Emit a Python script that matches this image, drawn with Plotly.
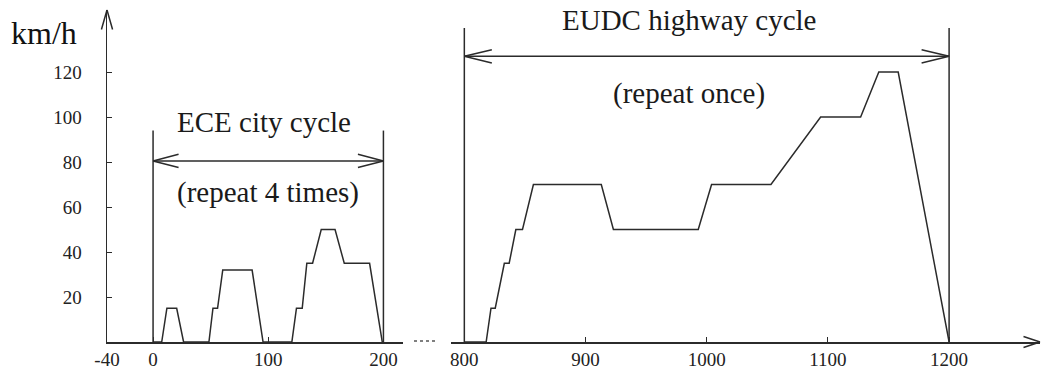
import plotly.graph_objects as go

# ---------------- data ----------------
ece_t = [0, 7.5, 12, 20.5, 26.5, 48.5, 52, 56, 60.5, 86, 95.5, 120.5, 124.5, 129.5,
         133.5, 138.5, 146, 158, 166, 188, 199, 200]
ece_v = [0, 0, 15, 15, 0, 0, 15, 15, 32, 32, 0, 0, 15, 15, 35, 35, 50, 50, 35, 35, 0, 0]

eudc_t = [800, 818, 822, 825.5, 833, 837, 842.5, 848, 857, 913, 923, 993, 1004, 1053,
          1094, 1127, 1142, 1158, 1200]
eudc_v = [0, 0, 15, 15, 35, 35, 50, 50, 70, 70, 50, 50, 70, 70, 100, 100, 120, 120, 0]

y_ticks = [20, 40, 60, 80, 100, 120]
x_ticks_left = [-40, 0, 100, 200]
x_ticks_right = [800, 900, 1000, 1100, 1200]

ece_bounds = [0, 200]
eudc_bounds = [800, 1200]
ece_bound_top = 94
eudc_bound_top = 139.6
ece_arrow_v = 80.5
eudc_arrow_v = 127

# ---------------- style ----------------
LINE = "#2b2b2b"
LW = 1.5
FONT = "Liberation Serif"
W, H = 1043, 374

x_left_range = [-40, 217]
x_right_range = [789, 1275]
y_range = [0, 147.6]

left_dom = [107 / W, 403 / W]
right_dom = [451 / W, 1040 / W]
y_dom = [(H - 342) / H, (H - 10) / H]

fig = go.Figure()

# speed traces
fig.add_trace(go.Scatter(x=ece_t, y=ece_v, mode="lines", xaxis="x", yaxis="y",
                         line=dict(color=LINE, width=LW), showlegend=False, hoverinfo="skip"))
fig.add_trace(go.Scatter(x=eudc_t, y=eudc_v, mode="lines", xaxis="x2", yaxis="y",
                         line=dict(color=LINE, width=LW), showlegend=False, hoverinfo="skip"))

# cycle boundaries
for b in ece_bounds:
    fig.add_trace(go.Scatter(x=[b, b], y=[0, ece_bound_top], mode="lines", xaxis="x", yaxis="y",
                             line=dict(color=LINE, width=LW), showlegend=False, hoverinfo="skip"))
for b in eudc_bounds:
    fig.add_trace(go.Scatter(x=[b, b], y=[0, eudc_bound_top], mode="lines", xaxis="x2", yaxis="y",
                             line=dict(color=LINE, width=LW), showlegend=False, hoverinfo="skip"))

# double-headed arrow shafts
fig.add_trace(go.Scatter(x=ece_bounds, y=[ece_arrow_v] * 2, mode="lines", xaxis="x", yaxis="y",
                         line=dict(color=LINE, width=LW), showlegend=False, hoverinfo="skip"))
fig.add_trace(go.Scatter(x=eudc_bounds, y=[eudc_arrow_v] * 2, mode="lines", xaxis="x2", yaxis="y",
                         line=dict(color=LINE, width=LW), showlegend=False, hoverinfo="skip"))

annotations = []


def chevron(xref, tip_x, tip_y, dx_px, dy_px, spread_px, horizontal=True):
    """Open chevron head made of two arrow-less annotation lines (pixel offsets)."""
    for s in (-1, 1):
        if horizontal:
            ax, ay = dx_px, s * spread_px
        else:
            ax, ay = s * spread_px, dy_px
        annotations.append(dict(x=tip_x, y=tip_y, xref=xref, yref="y", text="",
                                showarrow=True, arrowhead=0, arrowwidth=LW, arrowcolor=LINE,
                                ax=ax, ay=ay, axref="pixel", ayref="pixel",
                                standoff=0, startstandoff=0))


# ECE arrow heads
chevron("x", ece_bounds[0], ece_arrow_v, 27, 0, 7)
chevron("x", ece_bounds[1], ece_arrow_v, -27, 0, 7)
# EUDC arrow heads
chevron("x2", eudc_bounds[0], eudc_arrow_v, 29, 0, 7)
chevron("x2", eudc_bounds[1], eudc_arrow_v, -29, 0, 7)
# axis arrow heads
chevron("x", x_left_range[0], y_range[1], 0, 21, 6, horizontal=False)
chevron("x2", x_right_range[1], 0, -18, 0, 6)

# texts
txt = dict(showarrow=False, xanchor="center", yanchor="middle",
           font=dict(family=FONT, size=29, color="#1a1a1a"))
annotations += [
    dict(x=96, y=97.9, xref="x", yref="y", text="ECE city cycle", **txt),
    dict(x=99.4, y=66.4, xref="x", yref="y", text="(repeat 4 times)", **txt),
    dict(x=985.6, y=143, xref="x2", yref="y", text="EUDC highway cycle", **txt),
    dict(x=985.6, y=110.7, xref="x2", yref="y", text="(repeat once)", **txt),
    dict(x=44 / W, y=1 - 33 / H, xref="paper", yref="paper", text="km/h",
         xanchor="center", yanchor="middle",
         showarrow=False, font=dict(family=FONT, size=32, color="#111")),
]

tickfont = dict(family=FONT, size=19, color="#222")
axis_common = dict(showgrid=False, zeroline=False, showline=True, linecolor=LINE, linewidth=LW,
                   ticks="inside", ticklen=5, tickcolor=LINE, tickwidth=1, tickfont=tickfont,
                   fixedrange=True, automargin=False)

fig.update_layout(
    width=W, height=H, autosize=False,
    margin=dict(l=0, r=0, t=0, b=0, pad=0),
    paper_bgcolor="white", plot_bgcolor="white",
    xaxis=dict(domain=left_dom, range=x_left_range, anchor="y", tickmode="array",
               tickvals=x_ticks_left, ticktext=[str(v) for v in x_ticks_left],
               ticklabelstandoff=0, **axis_common),
    xaxis2=dict(domain=right_dom, range=x_right_range, anchor="y", tickmode="array",
                tickvals=x_ticks_right, ticktext=[str(v) for v in x_ticks_right],
                ticklabelstandoff=0, **axis_common),
    yaxis=dict(domain=y_dom, range=y_range, anchor="x", tickmode="array",
               tickvals=y_ticks, ticktext=[str(v) for v in y_ticks],
               ticklabelstandoff=20, **axis_common),
    annotations=annotations,
    shapes=[dict(type="line", xref="paper", yref="paper", x0=414 / W, x1=438 / W,
                 y0=(H - 341) / H, y1=(H - 341) / H,
                 line=dict(color="#555", width=1.5, dash="3px,3px"))],
    showlegend=False,
)

fig.write_html("out.html", config={"displayModeBar": False, "staticPlot": True},
               post_script="document.body.style.margin='0';document.body.style.overflow='hidden';")
